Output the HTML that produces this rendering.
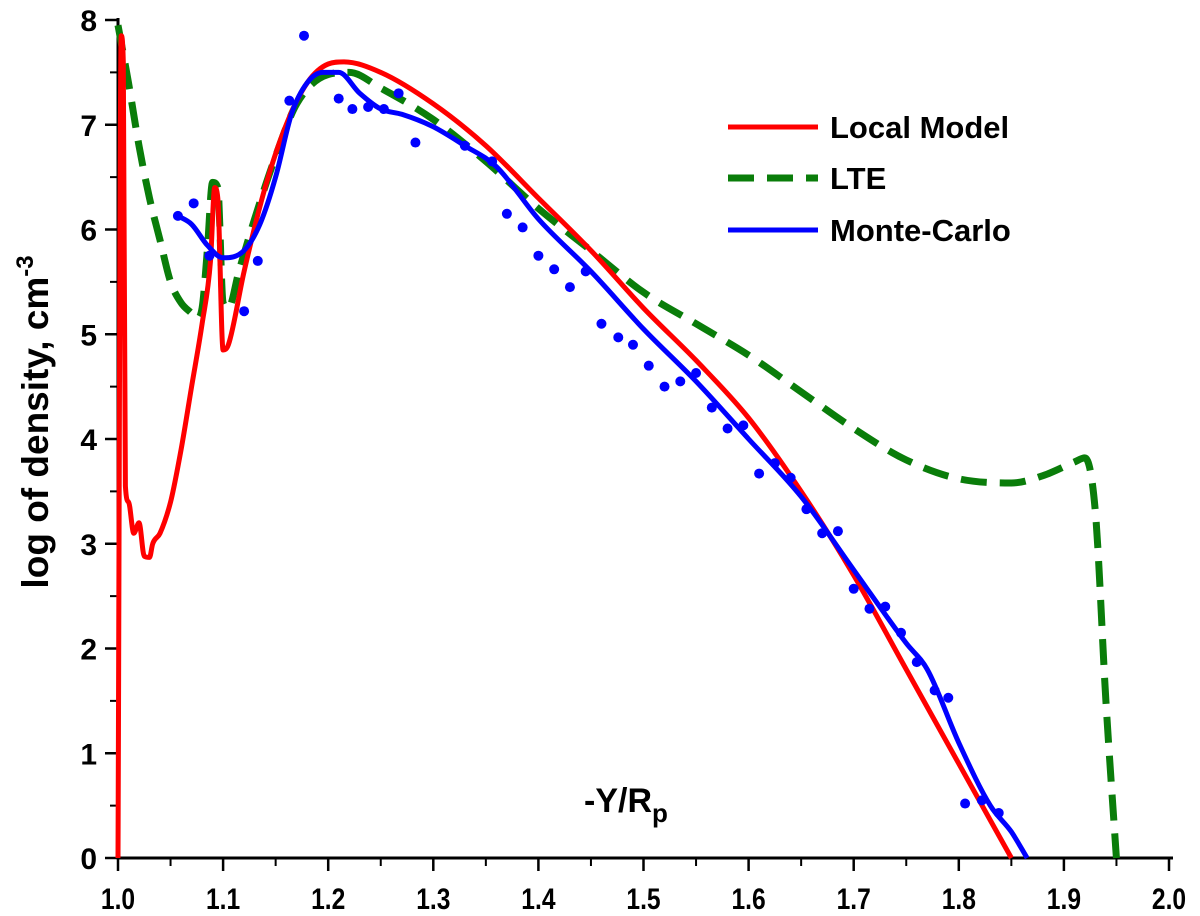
<!DOCTYPE html>
<html><head><meta charset="utf-8"><style>
html,body{margin:0;padding:0;background:#fff;}
svg{display:block;font-family:"Liberation Sans",Arial,sans-serif;}
</style></head><body>
<svg id="chart" width="1200" height="916" viewBox="0 0 1200 916" xmlns="http://www.w3.org/2000/svg">
<g id="axes"></g>
<g id="series"></g>
<text transform="translate(48,422) rotate(-90)" text-anchor="middle" font-size="37" font-weight="bold">log of density, cm<tspan dy="-15" font-size="24">-3</tspan></text>
<text x="584" y="812" font-size="34" font-weight="bold">-Y/R<tspan dy="10" font-size="26">p</tspan></text>
<g>
 <g><line x1="728" y1="127" x2="818" y2="127" stroke="#ff0000" stroke-width="5"/><text x="830" y="138" font-size="31" font-weight="bold">Local Model</text></g>
 <g><line x1="728" y1="178" x2="818" y2="178" stroke="#0a7d0a" stroke-width="7" stroke-dasharray="26,13"/><text x="830" y="189" font-size="31" font-weight="bold">LTE</text></g>
 <g><line x1="728" y1="230" x2="818" y2="230" stroke="#0000ff" stroke-width="5"/><text x="830" y="241" font-size="31" font-weight="bold">Monte-Carlo</text></g>
</g>
</svg>
<script>
const xTicks=[1.0,1.1,1.2,1.3,1.4,1.5,1.6,1.7,1.8,1.9,2.0];
const yTicks=[0,1,2,3,4,5,6,7,8];
const localX=[1.0,1.003,1.005,1.007,1.01,1.015,1.02,1.025,1.03,1.033,1.04,1.05,1.06,1.07,1.08,1.088,1.092,1.095,1.1,1.105,1.12,1.14,1.16,1.18,1.2,1.215,1.25,1.3,1.35,1.4,1.45,1.5,1.55,1.6,1.65,1.7,1.75,1.8,1.85];
const localY=[0,7.85,7.6,3.55,3.4,3.1,3.2,2.88,2.87,3.0,3.1,3.4,3.9,4.5,5.1,5.7,6.4,6.3,4.85,4.9,5.6,6.4,7.0,7.4,7.58,7.6,7.5,7.2,6.8,6.3,5.8,5.25,4.75,4.2,3.5,2.7,1.8,0.9,0];
const lteX=[1.0,1.01,1.02,1.03,1.04,1.05,1.06,1.07,1.075,1.08,1.085,1.09,1.095,1.1,1.105,1.115,1.13,1.15,1.17,1.2,1.22,1.25,1.3,1.35,1.4,1.45,1.5,1.55,1.6,1.65,1.7,1.75,1.8,1.85,1.88,1.91,1.92,1.93,1.94,1.95];
const lteY=[7.95,7.4,6.8,6.3,5.9,5.5,5.3,5.2,5.15,5.25,5.8,6.45,6.4,5.3,5.25,5.6,6.1,6.7,7.2,7.48,7.5,7.35,7.05,6.65,6.2,5.8,5.4,5.1,4.8,4.45,4.1,3.8,3.62,3.58,3.65,3.78,3.82,3.3,1.5,0];
const mcX=[1.057,1.07,1.085,1.1,1.12,1.135,1.15,1.165,1.18,1.195,1.21,1.23,1.25,1.27,1.3,1.33,1.36,1.4,1.45,1.5,1.55,1.6,1.65,1.7,1.75,1.77,1.8,1.83,1.85,1.865];
const mcY=[6.13,6.05,5.85,5.73,5.8,6.05,6.5,7.1,7.4,7.5,7.5,7.3,7.15,7.1,6.98,6.8,6.6,6.1,5.6,5.05,4.55,4.0,3.45,2.75,2.05,1.8,1.1,0.5,0.25,0];
const dotX=[1.057,1.072,1.087,1.12,1.133,1.163,1.177,1.21,1.223,1.238,1.253,1.267,1.283,1.33,1.356,1.37,1.385,1.4,1.415,1.43,1.445,1.46,1.476,1.49,1.505,1.52,1.535,1.55,1.565,1.58,1.595,1.61,1.625,1.64,1.655,1.67,1.685,1.7,1.715,1.73,1.745,1.76,1.777,1.79,1.806,1.822,1.838];
const dotY=[6.13,6.25,5.75,5.22,5.7,7.23,7.85,7.25,7.15,7.17,7.15,7.3,6.83,6.8,6.65,6.15,6.02,5.75,5.62,5.45,5.6,5.1,4.97,4.9,4.7,4.5,4.55,4.63,4.3,4.1,4.13,3.67,3.77,3.63,3.33,3.1,3.12,2.57,2.38,2.4,2.15,1.87,1.6,1.53,0.52,0.55,0.43];

const NS='http://www.w3.org/2000/svg';
const X0=118,X1=1169,Y0=858,Y1=20;
function sx(v){return X0+(v-1)*(X1-X0);}
function sy(v){return Y0-v/8*(Y0-Y1);}
function mk(tag,attrs,parent){const e=document.createElementNS(NS,tag);for(const k in attrs)e.setAttribute(k,attrs[k]);parent.appendChild(e);return e;}
const axes=document.getElementById('axes');
const series=document.getElementById('series');
let a=mk('line',{x1:X0,y1:Y1-2,x2:X0,y2:Y0+1.5,stroke:'#000','stroke-width':3},axes);


a=mk('line',{x1:X0-1.5,y1:Y0,x2:1173,y2:Y0,stroke:'#000','stroke-width':3},axes);


xTicks.forEach((t,i)=>{
 const x=sx(t);
 const tk=mk('line',{x1:x,y1:Y0,x2:x,y2:Y0+13,stroke:'#000','stroke-width':2.5},axes);
 
 
 if(i<xTicks.length-1){const m=mk('line',{x1:sx(t+0.05),y1:Y0,x2:sx(t+0.05),y2:Y0+8,stroke:'#000','stroke-width':2},axes);
 
 }
 const lb=mk('text',{'text-anchor':'middle','font-size':30,'font-weight':'bold',transform:'translate('+x+','+(Y0+51)+') scale(0.82,1)'},axes);
 lb.textContent=t.toFixed(1);
 
 
});
yTicks.forEach((t,i)=>{
 const y=sy(t);
 const tk=mk('line',{x1:X0-13,y1:y,x2:X0,y2:y,stroke:'#000','stroke-width':2.5},axes);
 
 
 if(i<yTicks.length-1){const m=mk('line',{x1:X0-8,y1:sy(t+0.5),x2:X0,y2:sy(t+0.5),stroke:'#000','stroke-width':2},axes);
 
 }
 const lb=mk('text',{x:X0-21,y:y+11,'text-anchor':'end','font-size':30,'font-weight':'bold'},axes);
 lb.textContent=String(t);
 
 
});
// monotone cubic path
function path(xs,ys){
 const px=xs.map(sx),py=ys.map(sy),n=px.length;
 const d=[],m=new Array(n);
 for(let i=0;i<n-1;i++)d.push((py[i+1]-py[i])/(px[i+1]-px[i]||1e-6));
 m[0]=d[0];m[n-1]=d[n-2];
 for(let i=1;i<n-1;i++){m[i]=(d[i-1]*d[i]<=0)?0:(d[i-1]+d[i])/2;}
 for(let i=0;i<n-1;i++){if(d[i]===0){m[i]=0;m[i+1]=0;continue;}const a=m[i]/d[i],b=m[i+1]/d[i],s=a*a+b*b;if(s>9){const t=3/Math.sqrt(s);m[i]=t*a*d[i];m[i+1]=t*b*d[i];}}
 let s='M'+px[0].toFixed(1)+','+py[0].toFixed(1);
 for(let i=0;i<n-1;i++){const h=(px[i+1]-px[i])/3;
  s+=' C'+(px[i]+h).toFixed(1)+','+(py[i]+m[i]*h).toFixed(1)+' '+(px[i+1]-h).toFixed(1)+','+(py[i+1]-m[i+1]*h).toFixed(1)+' '+px[i+1].toFixed(1)+','+py[i+1].toFixed(1);}
 return s;
}
let p=mk('path',{d:path(lteX,lteY),fill:'none',stroke:'#0a7d0a','stroke-width':7,'stroke-dasharray':'26,13','stroke-linejoin':'round'},series);


p=mk('path',{d:path(localX,localY),fill:'none',stroke:'#ff0000','stroke-width':5,'stroke-linejoin':'round'},series);


p=mk('path',{d:path(mcX,mcY),fill:'none',stroke:'#0000ff','stroke-width':5,'stroke-linejoin':'round'},series);


dotX.forEach((x,i)=>{
 const c=mk('circle',{cx:sx(x),cy:sy(dotY[i]),r:5,fill:'#0000ff'},series);
 
 
});
</script>
</body></html>
